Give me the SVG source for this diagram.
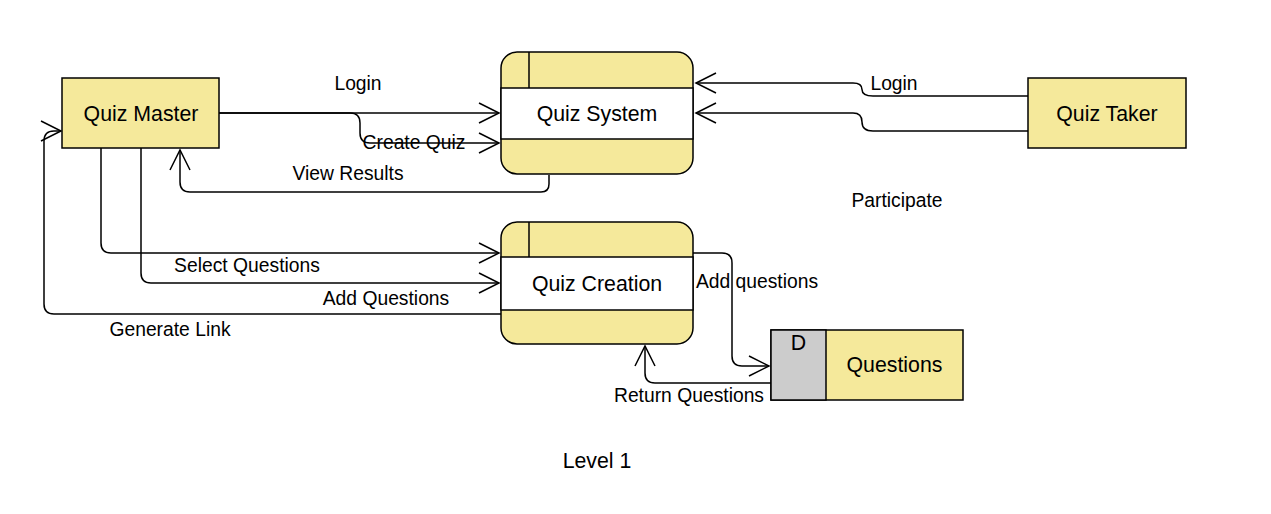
<svg xmlns="http://www.w3.org/2000/svg" width="1271" height="514" viewBox="0 0 1271 514">
<style>
.box{fill:#f5e99b;stroke:#000;stroke-width:1.5}
.mid{fill:#fff;stroke:#000;stroke-width:1.5}
.ln{fill:none;stroke:#000;stroke-width:1.5}
.nl{font-family:"Liberation Sans",Arial,sans-serif;font-size:21.3px;fill:#000;text-anchor:middle}
.el{font-family:"Liberation Sans",Arial,sans-serif;font-size:19.3px;fill:#000;text-anchor:middle}
</style>
<defs>
<marker id="arr" markerUnits="userSpaceOnUse" markerWidth="26" markerHeight="26" viewBox="-23 -13 26 26" refX="0" refY="0" orient="auto">
<path d="M-20,-10 L0,0 L-20,10" fill="none" stroke="#000" stroke-width="1.5"/>
</marker>
</defs>
<rect width="1271" height="514" fill="#fff"/>
<g id="connectors">
<path class="ln" marker-end="url(#arr)" d="M219,113 L499,113"/>
<path class="ln" marker-end="url(#arr)" d="M219,113 L350,113 Q360,113 360,123 L360,133 Q360,143 370,143 L499,143"/>
<path class="ln" marker-end="url(#arr)" d="M549,175 L549,184 Q549,192 541,192 L190,192 Q180,192 180,182 L180,150"/>
<path class="ln" marker-end="url(#arr)" d="M1028,96 L873,96 Q862,96 862,89.5 Q862,83 853,83 L696,83"/>
<path class="ln" marker-end="url(#arr)" d="M1028,131 L873,131 Q862,131 862,122 Q862,113 853,113 L696,113"/>
<path class="ln" marker-end="url(#arr)" d="M101,148 L101,243 Q101,253 111,253 L499,253"/>
<path class="ln" marker-end="url(#arr)" d="M141,148 L141,273 Q141,283 151,283 L499,283"/>
<path class="ln" marker-end="url(#arr)" d="M501,314 L54,314 Q44,314 44,304 L44,141 Q44,131 54,131 L61,131"/>
<path class="ln" marker-end="url(#arr)" d="M693,253 L722,253 Q732,253 732,263 L732,356 Q732,366 742,366 L769,366"/>
<path class="ln" marker-end="url(#arr)" d="M771,383 L655,383 Q645,383 645,373 L645,346"/>
<text class="el" x="358" y="90">Login</text>
<text class="el" x="414" y="149">Create Quiz</text>
<text class="el" x="348" y="180">View Results</text>
<text class="el" x="894" y="90">Login</text>
<text class="el" x="897" y="207">Participate</text>
<text class="el" x="247" y="272">Select Questions</text>
<text class="el" x="386" y="305">Add Questions</text>
<text class="el" x="170" y="336">Generate Link</text>
<text class="el" x="757" y="288">Add questions</text>
<text class="el" x="689" y="402">Return Questions</text>
</g>
<g id="quiz-master">
<rect class="box" x="62" y="78" width="157" height="70"/>
<text class="nl" x="141" y="120.5">Quiz Master</text>
</g>
<g id="quiz-system">
<rect class="box" x="501" y="52" width="192" height="122" rx="16"/>
<rect class="mid" x="501" y="88" width="192" height="51"/>
<line class="ln" x1="529" y1="52" x2="529" y2="88"/>
<text class="nl" x="597" y="120.5">Quiz System</text>
</g>
<g id="quiz-taker">
<rect class="box" x="1028" y="78" width="158" height="70"/>
<text class="nl" x="1107" y="120.5">Quiz Taker</text>
</g>
<g id="quiz-creation">
<rect class="box" x="501" y="222" width="192" height="122" rx="16"/>
<rect class="mid" x="501" y="257" width="192" height="53"/>
<line class="ln" x1="529" y1="222" x2="529" y2="257"/>
<text class="nl" x="597" y="290.5">Quiz Creation</text>
</g>
<g id="questions">
<rect class="box" x="771" y="330" width="192" height="70"/>
<rect x="771" y="330" width="55" height="70" fill="#cccccc" stroke="#000" stroke-width="1.5"/>
<text class="nl" x="798.5" y="350">D</text>
<text class="nl" x="894.5" y="372">Questions</text>
</g>
<text class="nl" x="597" y="467.5">Level 1</text>
</svg>
